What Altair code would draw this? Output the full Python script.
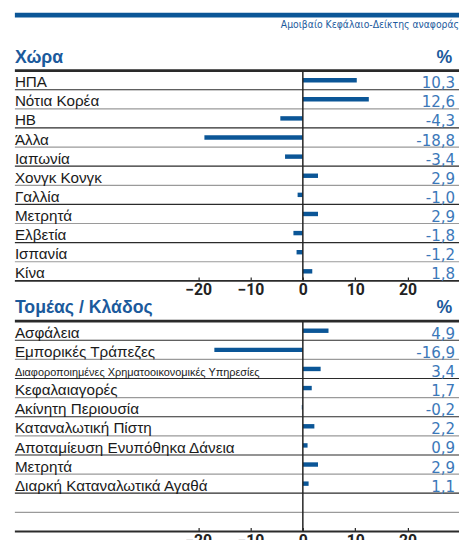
import altair as alt
import pandas as pd

country_labels = ["ΗΠΑ", "Νότια Κορέα", "ΗΒ", "Άλλα", "Ιαπωνία", "Χονγκ Κονγκ",
                  "Γαλλία", "Μετρητά", "Ελβετία", "Ισπανία", "Κίνα"]
country_values = [10.3, 12.6, -4.3, -18.8, -3.4, 2.9, -1.0, 2.9, -1.8, -1.2, 1.8]

sector_labels = ["Ασφάλεια", "Εμπορικές Τράπεζες",
                 "Διαφοροποιημένες Χρηματοοικονομικές Υπηρεσίες", "Κεφαλαιαγορές",
                 "Ακίνητη Περιουσία", "Καταναλωτική Πίστη", "Αποταμίευση Ενυπόθηκα Δάνεια",
                 "Μετρητά", "Διαρκή Καταναλωτικά Αγαθά"]
sector_values = [4.9, -16.9, 3.4, 1.7, -0.2, 2.2, 0.9, 2.9, 1.1]

tick_values = [-20, -10, 0, 10, 20]
x_domain = [-55, 30.2]

BLUE_BAR = "#0b5697"
BLUE_TXT = "#1b5a9c"
BLUE_VAL = "#3b78b9"
COND = "DejaVu Sans Condensed, DejaVu Sans, sans-serif"
W = 454
H = 214
NROWS = 11


def fmt(v):
    return f"{v:.1f}".replace(".", ",")


def section(labels, values, title, top_header=False):
    keys = [f"r{i}" for i in range(NROWS)]
    labs = labels + [""] * (NROWS - len(labels))
    vals = values + [None] * (NROWS - len(values))
    df = pd.DataFrame({
        "key": keys,
        "label": labs,
        "value": vals,
        "txt": [fmt(v) if v is not None else "" for v in vals],
        "fs": [11.1 if len(l) > 35 else 15.5 for l in labs],
        "lc": ["#2b2b2b" if i % 2 == 0 else "#9a9a9a" for i in range(NROWS)],
        "sw": [1.2] * (NROWS - 1) + [2.0],
    })
    yscale = alt.Scale(domain=keys, paddingInner=0, paddingOuter=0)
    base = alt.Chart(df)

    xenc = alt.X("value:Q", scale=alt.Scale(domain=x_domain, nice=False, zero=False),
                 axis=alt.Axis(values=tick_values, domain=False, grid=False, tickSize=4,
                               offset=-4, tickColor="#222", tickWidth=1.2,
                               labelFont="Roboto", labelFontWeight="bold", labelFontSize=16,
                               labelColor="#222", labelPadding=1, title=None))

    lines = base.mark_rule().encode(
        y=alt.Y("key:N", scale=yscale, axis=None, bandPosition=1),
        x=alt.value(0), x2=alt.value(W),
        color=alt.Color("lc:N", scale=None),
        size=alt.Size("sw:Q", scale=None),
    )
    bars = base.transform_filter("isValid(datum.value)").mark_bar(size=4.5, color=BLUE_BAR).encode(
        y=alt.Y("key:N", scale=yscale, axis=None),
        x=xenc,
    )
    zero = alt.Chart(pd.DataFrame({"z": [0]})).mark_rule(color="#222", strokeWidth=1.5).encode(
        x=alt.X("z:Q"), y=alt.value(0), y2=alt.value(H)
    )
    topline = alt.Chart(pd.DataFrame({"z": [0]})).mark_rule(color="#2a2a2a", strokeWidth=2.7).encode(
        x=alt.value(0), x2=alt.value(W), y=alt.value(0)
    )
    cat = base.mark_text(align="left", baseline="alphabetic", dy=-2.5, font="Liberation Sans",
                         color="#1a1a1a").encode(
        y=alt.Y("key:N", scale=yscale, axis=None, bandPosition=1),
        x=alt.value(0),
        text="label:N",
        size=alt.Size("fs:Q", scale=None),
    )
    valt = base.mark_text(align="right", baseline="alphabetic", dy=-1.5,
                          font=COND, fontSize=17, color=BLUE_VAL).encode(
        y=alt.Y("key:N", scale=yscale, axis=None, bandPosition=1),
        x=alt.value(448),
        text="txt:N",
    )
    head = alt.Chart(pd.DataFrame({"t": [title]})).mark_text(
        align="left", baseline="alphabetic", font="Liberation Sans", fontWeight="bold",
        fontSize=18, color=BLUE_TXT).encode(text="t:N", x=alt.value(0), y=alt.value(-8))
    pct = alt.Chart(pd.DataFrame({"t": ["%"]})).mark_text(
        align="right", baseline="alphabetic", font="Liberation Sans", fontWeight="bold",
        fontSize=18, color=BLUE_TXT).encode(text="t:N", x=alt.value(445), y=alt.value(-8))
    layers = [lines, bars, zero, topline, cat, valt, head, pct]
    if top_header:
        band = alt.Chart(pd.DataFrame({"z": [0]})).mark_rect(color=BLUE_BAR).encode(
            x=alt.value(0), x2=alt.value(W), y=alt.value(-59), y2=alt.value(-54))
        sub = alt.Chart(pd.DataFrame({"t": ["Αμοιβαίο Κεφάλαιο-Δείκτης αναφοράς"]})).mark_text(
            align="right", baseline="alphabetic", font=COND,
            fontSize=10.5, color=BLUE_TXT).encode(text="t:N", x=alt.value(452), y=alt.value(-43))
        layers = [band, sub] + layers
    return alt.layer(*layers).properties(width=W, height=H)


top = section(country_labels, country_values, "Χώρα", top_header=True)
bottom = section(sector_labels, sector_values, "Τομέας / Κλάδος")

chart = alt.vconcat(top, bottom, spacing=2).properties(
    padding={"left": 5, "top": 0, "right": -4, "bottom": -13}
).configure_view(strokeWidth=0)

chart.save("out.html", embed_options={"renderer": "svg", "actions": False})
